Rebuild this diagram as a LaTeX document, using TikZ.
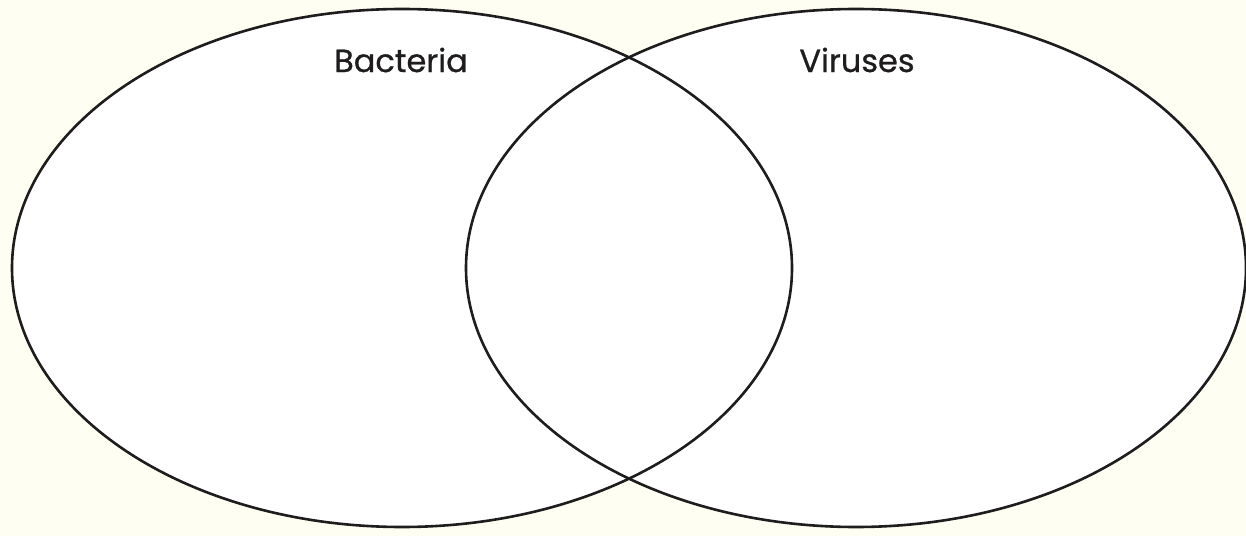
\documentclass[tikz,border=0pt]{standalone}
\usepackage{fontspec}
\setmainfont{Poppins}
\newfontfamily\lblfont{Poppins}[FakeBold=0.7]
\definecolor{bgcream}{HTML}{FFFEF3}
\definecolor{linegray}{HTML}{1E1C1C}
\begin{document}
\begin{tikzpicture}[x=1pt,y=1pt,
  venn/.style={draw=linegray,line width=2.6pt},
  lbl/.style={font=\lblfont\fontsize{32}{38}\selectfont,text=linegray,inner sep=0pt}]
\fill[bgcream] (0,0) rectangle (1246,536);
\useasboundingbox (0,0) rectangle (1246,536);
\fill[white] (402,268) ellipse [x radius=390, y radius=259];
\fill[white] (856,268) ellipse [x radius=390, y radius=259];
\draw[venn] (402,268) ellipse [x radius=390, y radius=259];
\draw[venn] (856,268) ellipse [x radius=390, y radius=259];
\node[lbl] (bact) at (401,476) {Bacteria};
\node[lbl] (vir) at (857,476) {Viruses};
\end{tikzpicture}
\end{document}
